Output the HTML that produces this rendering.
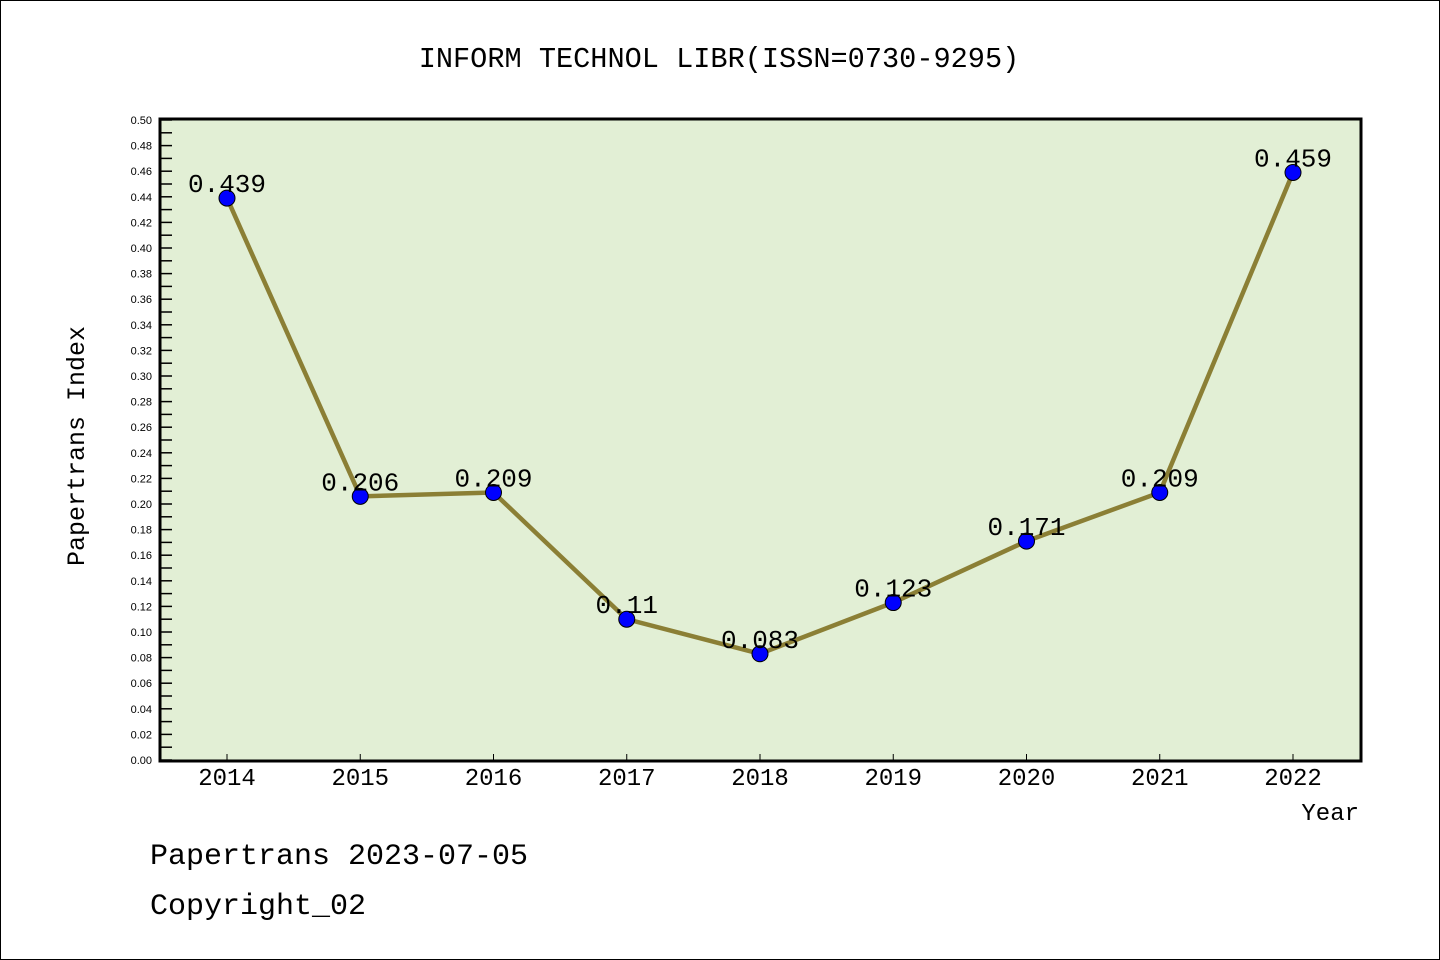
<!DOCTYPE html>
<html><head><meta charset="utf-8"><style>
html,body{margin:0;padding:0;background:#fff}
svg{display:block}
text{font-family:"Liberation Mono",monospace}
text.ytl{font-family:"Liberation Sans",sans-serif}
</style></head><body>
<svg id="chart" width="1440" height="960" xmlns="http://www.w3.org/2000/svg">
<rect x="0.5" y="0.5" width="1439" height="959" fill="#fff" stroke="#000"/>
<text x="719" y="67" font-size="28.6" text-anchor="middle">INFORM TECHNOL LIBR(ISSN=0730-9295)</text>
<rect x="160" y="120" width="1201" height="640" fill="#e2efd5"/>
<g id="axes"></g>
<g id="series"></g>
<path d="M160 119 V761 H1361 V119 Z" fill="none" stroke="#000" stroke-width="3"/>
<text x="84" y="446" font-size="25" text-anchor="middle" transform="rotate(-90 84 446)">Papertrans Index</text>
<text x="1359" y="820" font-size="24" text-anchor="end">Year</text>
<text x="150" y="864" font-size="30">Papertrans 2023-07-05</text>
<text x="150" y="914" font-size="30">Copyright_02</text>
</svg>
<script>
const years = ["2014","2015","2016","2017","2018","2019","2020","2021","2022"];
const values = [0.439,0.206,0.209,0.11,0.083,0.123,0.171,0.209,0.459];
const valueLabels = ["0.439","0.206","0.209","0.11","0.083","0.123","0.171","0.209","0.459"];
const yTicks = [0,0.02,0.04,0.06,0.08,0.1,0.12,0.14,0.16,0.18,0.2,0.22,0.24,0.26,0.28,0.3,0.32,0.34,0.36,0.38,0.4,0.42,0.44,0.46,0.48,0.5];

const NS="http://www.w3.org/2000/svg";
function yScale(v){return 760-v/0.5*640;}
function xScale(i){return 227+i*(1293-227)/(years.length-1);}
function mk(tag,attrs,parent){const e=document.createElementNS(NS,tag);for(const k in attrs)e.setAttribute(k,attrs[k]);parent.appendChild(e);return e;}
const axes=document.getElementById('axes'), series=document.getElementById('series');
yTicks.forEach((t,i)=>{
  const y=yScale(t);
  const l=mk('line',{x1:160,x2:172,y1:y,y2:y,stroke:'#000','stroke-width':1.5},axes);
  
  
  if(i<yTicks.length-1){
    const m=mk('line',{x1:160,x2:172,y1:yScale(t+0.01),y2:yScale(t+0.01),stroke:'#000','stroke-width':1.5},axes);
    
    
  }
  const tx=mk('text',{x:152,y:y+4,'font-size':11,'text-anchor':'end','class':'ytl'},axes);
  tx.textContent=t.toFixed(2);
  
  
});
years.forEach((yr,i)=>{
  const x=xScale(i);
  const l=mk('line',{x1:x,x2:x,y1:760,y2:754,stroke:'#000','stroke-width':1},axes);
  
  
  const tx=mk('text',{x:x,y:785,'font-size':24,'text-anchor':'middle'},axes);
  tx.textContent=yr;
  
  
});
const pts=values.map((v,i)=>xScale(i)+','+yScale(v)).join(' ');
const line=mk('polyline',{points:pts,fill:'none',stroke:'#8b7f35','stroke-width':4.5,'stroke-linejoin':'round'},series);


values.forEach((v,i)=>{
  const c=mk('circle',{cx:xScale(i),cy:yScale(v),r:8,fill:'#0000ff',stroke:'#000','stroke-width':1},series);
  
  
  const t=mk('text',{x:xScale(i),y:yScale(v)-6,'font-size':26,'text-anchor':'middle'},series);
  t.textContent=valueLabels[i];
  
  
});
</script>
</body></html>
